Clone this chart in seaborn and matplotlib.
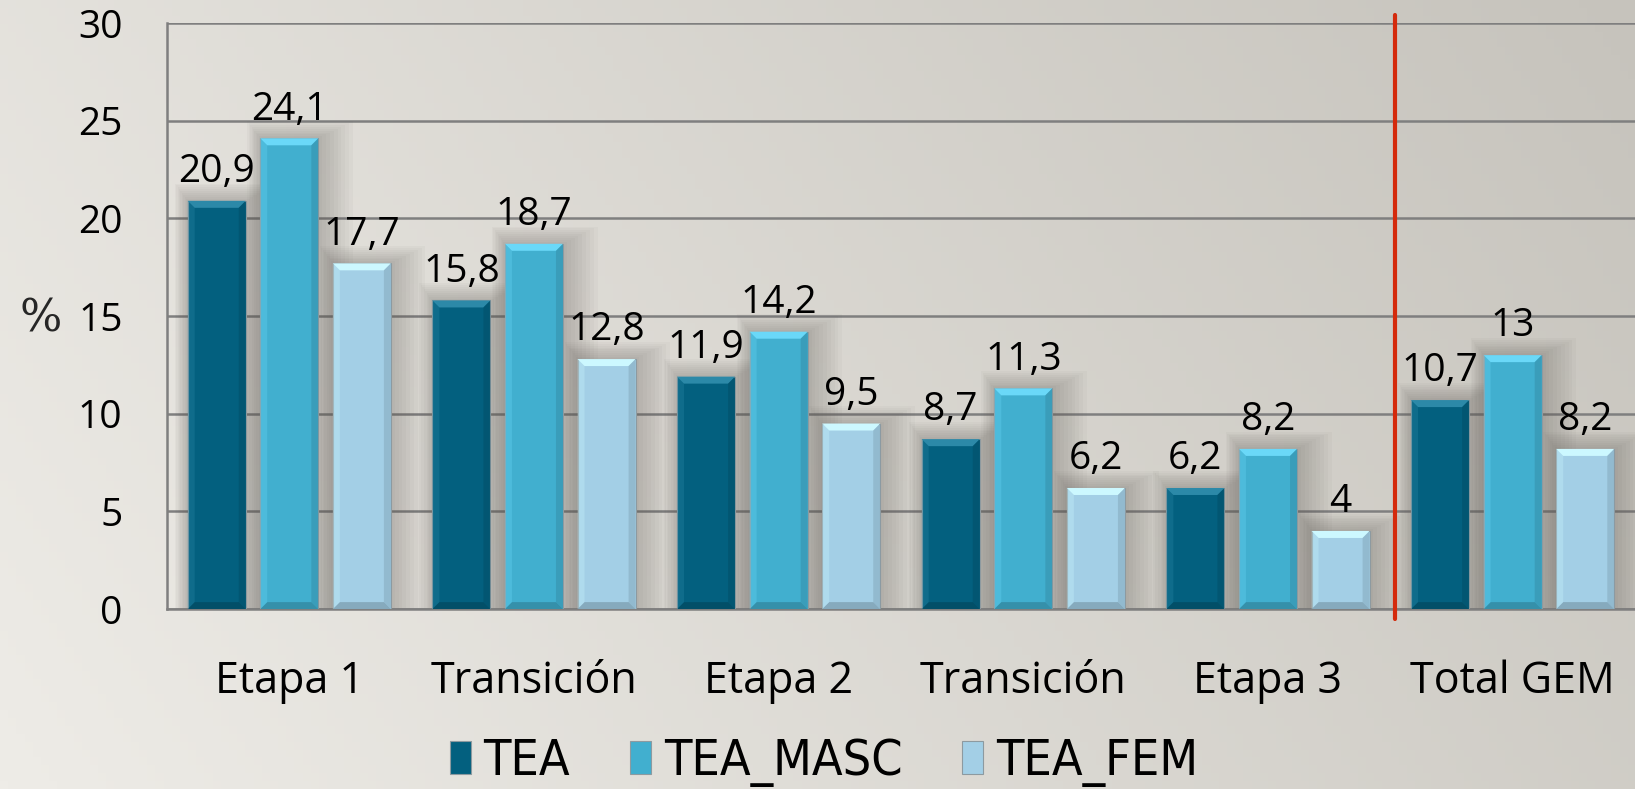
import numpy as np
import pandas as pd
import seaborn as sns
import matplotlib.pyplot as plt
from matplotlib.patches import Polygon, Rectangle
from matplotlib.colors import to_rgb

# =====================
# Data
# =====================
categories = ["Etapa 1", "Transición", "Etapa 2", "Transición ", "Etapa 3", "Total GEM"]
tick_labels = ["Etapa 1", "Transición", "Etapa 2", "Transición", "Etapa 3", "Total GEM"]
series = ["TEA", "TEA_MASC", "TEA_FEM"]
tea = [20.9, 15.8, 11.9, 8.7, 6.2, 10.7]
tea_masc = [24.1, 18.7, 14.2, 11.3, 8.2, 13]
tea_fem = [17.7, 12.8, 9.5, 6.2, 4, 8.2]
colors = ["#03607F", "#41AFCF", "#A3CFE6"]

df = pd.DataFrame({
    "cat": categories * 3,
    "serie": [s for s in series for _ in categories],
    "val": tea + tea_masc + tea_fem,
})

sns.set_style("white")
plt.rcParams["font.family"] = ["Open Sans", "DejaVu Sans"]
plt.rcParams["text.color"] = "black"
plt.rcParams["xtick.color"] = "black"
plt.rcParams["ytick.color"] = "black"

fig = plt.figure(figsize=(16.35, 7.89), dpi=100)

# =====================
# Background gradient
# =====================
bg = fig.add_axes([0, 0, 1, 1], zorder=-10)
xx, yy = np.meshgrid(np.linspace(0, 1, 200), np.linspace(0, 1, 100))
t = np.clip(0.75 * xx + 0.25 * (1 - yy), 0, 1)
c0 = np.array([238, 236, 231]) / 255
c1 = np.array([198, 195, 188]) / 255
img = c0[None, None, :] * (1 - t[..., None]) + c1[None, None, :] * t[..., None]
bg.imshow(img, aspect="auto", extent=[0, 1, 0, 1], origin="upper")
bg.axis("off")

ax = fig.add_axes([0.1021, 0.228, 0.8979, 0.7428])
ax.patch.set_alpha(0)

sns.barplot(data=df, x="cat", y="val", hue="serie", palette=colors, saturation=1,
            width=0.89, gap=0.2, ax=ax, legend=True, zorder=3,
            edgecolor="#8d9aa0", linewidth=0.8)

ax.set_xlim(-0.5, 5.5)
ax.set_ylim(0, 30)

# =====================
# 3D-ish bevel + soft shadow on each bar
# =====================
ppu_y = (0.7428 * 789) / 30      # px per value unit
ppu_x = (0.8979 * 1635) / 6      # px per category
for cont, col in zip(ax.containers, colors):
    base = np.array(to_rgb(col))
    light = np.clip(base + 0.16, 0, 1)
    dark = base * 0.78
    for p in cont:
        x0, w, h = p.get_x(), p.get_width(), p.get_height()
        # shadow
        for k in range(1, 10):
            ex = k * 2.4 / ppu_x
            ey = k * 2.4 / ppu_y
            ax.add_patch(Rectangle((x0 - ex * 0.6, 0), w + ex * 2.2, h + ey * 0.8,
                                   color="#5e5a55", alpha=0.04, lw=0, zorder=2))
        bh = 7 / ppu_y
        bw = 7 / ppu_x
        ax.add_patch(Polygon([[x0, h], [x0 + w, h], [x0 + w - bw, h - bh], [x0 + bw, h - bh]],
                             closed=True, color=light, zorder=4, lw=0))
        ax.add_patch(Polygon([[x0, 0], [x0 + w, 0], [x0 + w - bw, bh], [x0 + bw, bh]],
                             closed=True, color=dark, zorder=4, lw=0, alpha=0.8))
        ax.add_patch(Polygon([[x0 + w, h], [x0 + w, 0], [x0 + w - bw, bh], [x0 + w - bw, h - bh]],
                             closed=True, color=dark, zorder=4, lw=0, alpha=0.45))
        ax.add_patch(Polygon([[x0, h], [x0, 0], [x0 + bw, bh], [x0 + bw, h - bh]],
                             closed=True, color=light, zorder=4, lw=0, alpha=0.3))
    labels = [f"{v:g}".replace(".", ",") for v in cont.datavalues]
    ax.bar_label(cont, labels=labels, padding=7, fontsize=28, zorder=5)

ax.set_yticks(range(0, 31, 5))
ax.yaxis.grid(True, color="#7f7f7f", lw=1.8, zorder=0)
ax.set_axisbelow(True)
ax.set_xticks(range(6))
ax.set_xticklabels(tick_labels, fontsize=31)
ax.tick_params(axis="x", pad=36, length=0)
ax.tick_params(axis="y", pad=32, length=0, labelsize=28)
ax.set_xlabel("")
ax.set_ylabel("%", fontsize=32, family="DejaVu Serif", rotation=0, va="center", ha="center")
ax.yaxis.set_label_coords(-0.086, 0.495)
for s in ["top", "right"]:
    ax.spines[s].set_visible(False)
for s in ["left", "bottom"]:
    ax.spines[s].set_color("#7f7f7f")
    ax.spines[s].set_linewidth(1.8)

# red separator between Etapa 3 and Total GEM
ax.plot([4.52, 4.52], [-0.5, 30.4], color="#D42A0C", lw=3, zorder=6, clip_on=False)

handles, labs = ax.get_legend_handles_labels()
ax.get_legend().remove()
fig.legend(handles, labs, loc="center", bbox_to_anchor=(0.504, 0.034), ncol=3,
           frameon=False, prop={"family": "DejaVu Sans", "stretch": "condensed", "size": 36},
           handlelength=0.42, handleheight=0.65, handletextpad=0.25, columnspacing=1.2)

fig.savefig("out.png", dpi=100)
